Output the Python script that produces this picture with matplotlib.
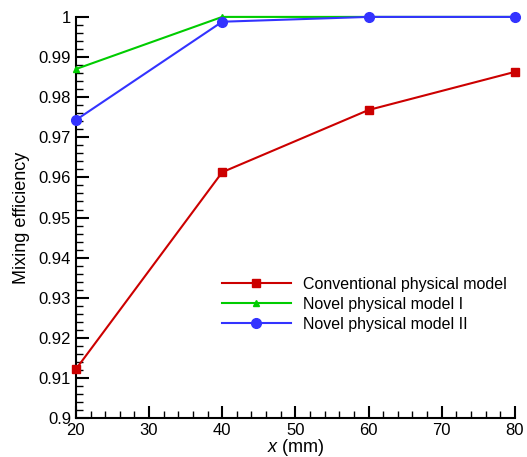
import numpy as np
import matplotlib
matplotlib.use('Agg')
import matplotlib.pyplot as plt
from matplotlib.ticker import MultipleLocator, FuncFormatter

plt.rcParams['font.family'] = ['Liberation Sans', 'DejaVu Sans']
plt.rcParams['mathtext.fontset'] = 'custom'
plt.rcParams['mathtext.rm'] = 'Liberation Sans'
plt.rcParams['mathtext.it'] = 'Liberation Sans:italic'

x = [20, 40, 60, 80]
conventional = [0.9122, 0.9613, 0.9768, 0.9863]
novel_1 = [0.9870, 1.0, 1.0, 1.0]
novel_2 = [0.9743, 0.9988, 1.0, 1.0]

fig = plt.figure(figsize=(5.27, 4.57), dpi=100)
ax = fig.add_axes([0.144, 0.085, 0.833, 0.878])

ax.plot(x, conventional, color='#cc0000', marker='s', ms=6, lw=1.5,
        label='Conventional physical model', clip_on=False, zorder=3)
ax.plot(x, novel_1, color='#00cc00', marker='^', ms=5, lw=1.5,
        label='Novel physical model I', clip_on=False, zorder=3)
ax.plot(x, novel_2, color='#3333ff', marker='o', ms=7, lw=1.5,
        label='Novel physical model II', clip_on=False, zorder=4)

ax.set_xlim(20, 80)
ax.set_ylim(0.9, 1.0)
ax.xaxis.set_major_locator(MultipleLocator(10))
ax.xaxis.set_minor_locator(MultipleLocator(2))
ax.yaxis.set_major_locator(MultipleLocator(0.01))
ax.yaxis.set_minor_locator(MultipleLocator(0.002))
ax.yaxis.set_major_formatter(FuncFormatter(lambda v, p: ('%.2f' % v).rstrip('0').rstrip('.')))

for s in ['top', 'right']:
    ax.spines[s].set_visible(False)
for s in ['left', 'bottom']:
    ax.spines[s].set_linewidth(1.5)

ax.tick_params(which='major', direction='in', length=9, width=1.5, labelsize=12)
ax.tick_params(which='minor', direction='in', length=5, width=1)

ax.set_xlabel(r'$\it{x}$ (mm)', fontsize=13, labelpad=-1)
ax.set_ylabel('Mixing efficiency', fontsize=13, labelpad=6)

ax.legend(loc='lower left', bbox_to_anchor=(0.3, 0.18), frameon=False,
          fontsize=11.5, handlelength=4.3, handletextpad=0.8, labelspacing=0.3)

fig.savefig('out.png', dpi=100)
